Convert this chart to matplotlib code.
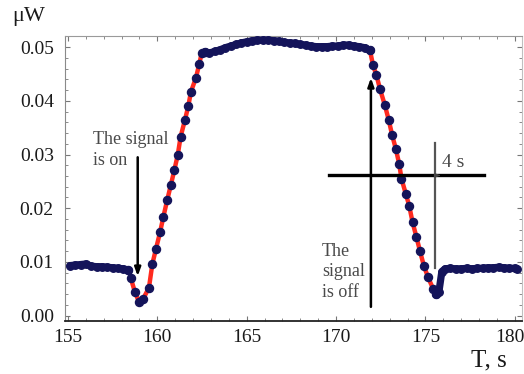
import numpy as np
import matplotlib.pyplot as plt
import matplotlib.transforms as mtransforms
from matplotlib.ticker import MultipleLocator

# --- data (time in s, power in uW) ---
t_left = [155.1, 155.4, 155.7, 156.0, 156.3, 156.6, 156.9, 157.2, 157.5, 157.8, 158.1, 158.35]
v_left = [0.0093, 0.0094, 0.0095, 0.0096, 0.0092, 0.0091, 0.0091, 0.0090, 0.0089, 0.0088, 0.0087, 0.0085]

t_on = [158.35, 158.52, 158.75, 158.97, 159.19, 159.53, 159.72, 159.92, 160.15, 160.33,
        160.55, 160.76, 160.95, 161.14, 161.30, 161.54, 161.73, 161.88, 162.16, 162.34, 162.48, 162.66]
v_on = [0.0085, 0.0069, 0.0043, 0.0026, 0.0030, 0.0052, 0.0096, 0.0124, 0.0155, 0.0183,
        0.0215, 0.0244, 0.0271, 0.0299, 0.0333, 0.0364, 0.0390, 0.0417, 0.0443, 0.0468, 0.0489, 0.0491]

t_top = [162.66, 162.9, 163.2, 163.5, 163.8, 164.1, 164.4, 164.7, 165.0, 165.3, 165.6, 165.9,
         166.2, 166.5, 166.8, 167.1, 167.4, 167.7, 168.0, 168.3, 168.6, 168.9, 169.2, 169.5,
         169.8, 170.1, 170.4, 170.7, 171.0, 171.3, 171.6, 171.9]
v_top = [0.0491, 0.0489, 0.0492, 0.0495, 0.0499, 0.0502, 0.0505, 0.0508, 0.0510, 0.0512, 0.0513, 0.0513,
         0.0513, 0.0512, 0.0511, 0.0509, 0.0508, 0.0507, 0.0505, 0.0504, 0.0502, 0.0501, 0.0501, 0.0501,
         0.0502, 0.0502, 0.0504, 0.0504, 0.0502, 0.0501, 0.0499, 0.0494]

t_off = [171.9, 172.07, 172.26, 172.45, 172.73, 172.95, 173.14, 173.34, 173.53, 173.66, 173.90,
         174.09, 174.28, 174.50, 174.69, 174.91, 175.15, 175.43, 175.6]
v_off = [0.0494, 0.0466, 0.0448, 0.0423, 0.0392, 0.0364, 0.0336, 0.0311, 0.0283, 0.0255, 0.0227,
         0.0205, 0.0174, 0.0146, 0.0121, 0.0093, 0.0071, 0.0050, 0.0041]

t_right = [175.6, 175.75, 175.92, 176.1, 176.4, 176.7, 177.0, 177.3, 177.6, 177.9, 178.2, 178.5,
           178.8, 179.1, 179.4, 179.7, 180.0, 180.1]
v_right = [0.0041, 0.0043, 0.0082, 0.0087, 0.0088, 0.0087, 0.0087, 0.0088, 0.0087, 0.0088, 0.0088, 0.0089,
           0.0089, 0.0090, 0.0089, 0.0088, 0.0088, 0.0087]

x_ticks = [155, 160, 165, 170, 175, 180]
y_ticks = [0.00, 0.01, 0.02, 0.03, 0.04, 0.05]

navy = '#14145a'
red = '#ff2a1f'
serif = ['Liberation Serif', 'DejaVu Serif']
plt.rcParams['font.family'] = serif

fig = plt.figure(figsize=(5.24, 3.74), dpi=100)
ax = fig.add_axes([0.124, 0.142, 0.872, 0.762])

# fitted red lines on the edges
ax.plot(t_on[1:], v_on[1:], color=red, lw=3.2, zorder=2)
ax.plot(t_off, v_off, color=red, lw=3.2, zorder=2)

# plateaus: dense dots -> thick band
for tt, vv in [(t_left, v_left), (t_top, v_top), (t_right, v_right)]:
    ax.plot(tt, vv, color=navy, lw=5.2, solid_capstyle='round', zorder=3)
    ax.plot(tt, vv, 'o', color=navy, ms=5.4, zorder=3)

# dots on the edges
ax.plot(t_on, v_on, 'o', color=navy, ms=5.8, zorder=4)
ax.plot(t_off, v_off, 'o', color=navy, ms=5.8, zorder=4)

ax.set_xlim(154.83, 180.4)
ax.set_ylim(-0.0010, 0.0521)
ax.set_xticks(x_ticks)
ax.set_yticks(y_ticks)
ax.set_yticklabels(['%.2f' % y for y in y_ticks])
ax.xaxis.set_minor_locator(MultipleLocator(1))
ax.yaxis.set_minor_locator(MultipleLocator(0.002))
ax.tick_params(which='both', direction='in', top=True, right=True, color='#777777')
ax.tick_params(which='major', length=3.5, width=0.8, labelsize=14, labelcolor='#1a1a1a')
ax.tick_params(which='minor', length=2.5, width=0.6)
ax.tick_params(axis='x', pad=6)
ax.tick_params(axis='y', pad=8)

# keep the last x label inside the figure
last = ax.get_xticklabels()[-1]
last.set_transform(last.get_transform() + mtransforms.ScaledTranslation(-5 / 100, 0, fig.dpi_scale_trans))

ax.spines['bottom'].set_color('#222222')
ax.spines['bottom'].set_linewidth(1.3)
ax.spines['left'].set_color('#8a8a8a')
ax.spines['top'].set_color('#9a9a9a')
ax.spines['right'].set_color('#c0c0c0')

# annotations
arr = dict(arrowstyle='-|>,head_length=0.5,head_width=0.18', color='black', lw=1.8)
ax.annotate('', xy=(158.9, 0.0068), xytext=(158.9, 0.0300), arrowprops=arr, zorder=5)
ax.annotate('', xy=(171.95, 0.0448), xytext=(171.95, 0.0011), arrowprops=arr, zorder=5)
ax.plot([169.6, 178.3], [0.0261, 0.0261], color='black', lw=2.4, zorder=5)
ax.plot([175.55, 175.55], [0.0088, 0.0321], color='#555555', lw=1.6, zorder=5)
ax.annotate('', xy=(175.85, 0.0261), xytext=(175.55, 0.0261),
            arrowprops=dict(arrowstyle='-|>,head_length=0.3,head_width=0.12', color='#444444', lw=0.8), zorder=6)

txt_col = '#4a4a4a'
ax.text(156.4, 0.0343, 'The signal\nis on', fontsize=13, color=txt_col, va='top', ha='left',
        linespacing=1.3)
ax.text(169.2, 0.0135, 'The\nsignal\nis off', fontsize=13, color=txt_col, va='top', ha='left',
        linespacing=1.25)
ax.text(175.95, 0.0285, '4 s', fontsize=14, color=txt_col, va='center', ha='left')

fig.text(12 / 524, 1 - 16 / 374, 'μW', fontsize=16, color='#1a1a1a', ha='left', va='center')
fig.text(471 / 524, 1 - 360 / 374, 'T, s', fontsize=18, color='#1a1a1a', ha='left', va='center')

fig.savefig('out.png', dpi=100)
